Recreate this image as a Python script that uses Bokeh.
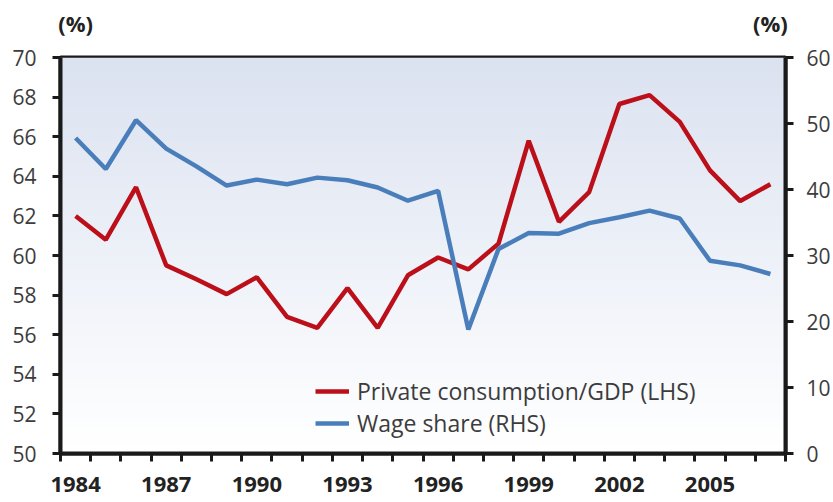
from bokeh.plotting import figure
from bokeh.models import (Range1d, LinearAxis, FixedTicker, Legend, LegendItem)
from bokeh.embed import file_html
from bokeh.resources import INLINE

# ---------------- data ----------------
years = list(range(1984, 2008))
private_consumption = [62.0, 60.8, 63.45, 59.5, 58.8, 58.05, 58.9, 56.9, 56.35, 58.35,
                       56.35, 59.0, 59.9, 59.3, 60.6, 65.8, 61.7, 63.2, 67.65, 68.1,
                       66.75, 64.3, 62.75, 63.6]
wage_share = [47.8, 43.1, 50.5, 46.2, 43.5, 40.6, 41.5, 40.8, 41.8, 41.4,
              40.3, 38.3, 39.8, 18.8, 31.0, 33.4, 33.3, 34.9, 35.8, 36.8,
              35.6, 29.2, 28.5, 27.2]
x_labels = [1984, 1987, 1990, 1993, 1996, 1999, 2002, 2005]
left_ticks = list(range(50, 71, 2))
right_ticks = list(range(0, 61, 10))
series_names = ["Private consumption/GDP (LHS)", "Wage share (RHS)"]
unit_label = "(%)"

RED = "#bb101a"
BLUE = "#4a7ebb"
FONT = "Open Sans"
TXT = "#3c3c3c"
DARK = "#1a1a1a"

x0, x1 = years[0] - 0.5, years[-1] + 0.5

p = figure(width=833, height=502, output_backend="svg", toolbar_location=None,
           x_range=Range1d(x0, x1), y_range=Range1d(50, 70),
           min_border_left=60, min_border_right=48, min_border_top=57, min_border_bottom=49)
p.extra_y_ranges = {"rhs": Range1d(0, 60)}
p.xgrid.visible = False
p.ygrid.visible = False
p.background_fill_color = "white"
p.border_fill_color = "white"
p.outline_line_color = DARK
p.outline_line_width = 4

# gradient background (decorative bands across the frame)
nb = 80
top_rgb = (219, 226, 240)
bot_rgb = (255, 255, 255)
lo, hi = p.y_range.start, p.y_range.end
bt, tp, cols = [], [], []
for i in range(nb):
    f = i / (nb - 1)
    b = lo + (hi - lo) * i / nb
    t = lo + (hi - lo) * (i + 1.3) / nb
    bt.append(b)
    tp.append(min(t, hi))
    c = tuple(int(round(bot_rgb[k] + (top_rgb[k] - bot_rgb[k]) * f)) for k in range(3))
    cols.append("#%02x%02x%02x" % c)
p.quad(left=x0, right=x1, bottom=bt, top=tp, fill_color=cols, line_color=None, level="underlay")

# lines
r1 = p.line(years, private_consumption, line_color=RED, line_width=4.5)
r2 = p.line(years, wage_share, line_color=BLUE, line_width=4.5, y_range_name="rhs")

# x axis
xa = p.xaxis[0]
xa.ticker = FixedTicker(ticks=x_labels, minor_ticks=[y - 0.5 for y in years] + [years[-1] + 0.5])
xa.major_tick_out = 0
xa.major_tick_in = 0
xa.minor_tick_out = 8
xa.minor_tick_in = 0
xa.minor_tick_line_width = 3
xa.minor_tick_line_color = DARK
xa.axis_line_width = 4
xa.axis_line_color = DARK
xa.major_label_text_font = FONT
xa.major_label_text_font_size = "22px"
xa.major_label_text_font_style = "bold"
xa.major_label_text_color = "#222222"
xa.major_label_standoff = 15

# left axis
ya = p.yaxis[0]
ya.ticker = FixedTicker(ticks=left_ticks)
ya.major_tick_out = 8
ya.major_tick_in = 0
ya.minor_tick_out = 0
ya.minor_tick_in = 0
ya.major_tick_line_width = 3
ya.major_tick_line_color = DARK
ya.axis_line_width = 4
ya.axis_line_color = DARK
ya.major_label_text_font = FONT
ya.major_label_text_font_size = "21px"
ya.major_label_text_color = TXT
ya.major_label_standoff = 16

# right axis
ra = LinearAxis(y_range_name="rhs", ticker=FixedTicker(ticks=right_ticks))
ra.major_tick_out = 8
ra.major_tick_in = 0
ra.minor_tick_out = 0
ra.minor_tick_in = 0
ra.major_tick_line_width = 3
ra.major_tick_line_color = DARK
ra.axis_line_width = 4
ra.axis_line_color = DARK
ra.major_label_text_font = FONT
ra.major_label_text_font_size = "21px"
ra.major_label_text_color = TXT
ra.major_label_standoff = 13
p.add_layout(ra, "right")

# unit labels "(%)" above the plot, via an invisible top axis
ta = LinearAxis(ticker=FixedTicker(ticks=[years[0], years[-1]]),
                major_label_overrides={years[0]: unit_label, years[-1]: unit_label})
ta.axis_line_color = None
ta.major_tick_line_color = None
ta.minor_tick_line_color = None
ta.major_tick_out = 0
ta.major_tick_in = 0
ta.major_label_standoff = 20
ta.major_label_text_font = FONT
ta.major_label_text_font_size = "22px"
ta.major_label_text_font_style = "bold"
ta.major_label_text_color = "#222222"
p.add_layout(ta, "above")

legend = Legend(items=[LegendItem(label=series_names[0], renderers=[r1]),
                       LegendItem(label=series_names[1], renderers=[r2])],
                location=(255, 14), orientation="vertical")
legend.background_fill_alpha = 0
legend.border_line_color = None
legend.padding = 0
legend.margin = 0
legend.spacing = -3
legend.glyph_width = 34
legend.glyph_height = 28
legend.label_height = 28
legend.label_standoff = 8
legend.label_text_font = FONT
legend.label_text_font_size = "23px"
legend.label_text_color = TXT
p.add_layout(legend, "center")

open("out.html", "w").write(file_html(p, INLINE))
